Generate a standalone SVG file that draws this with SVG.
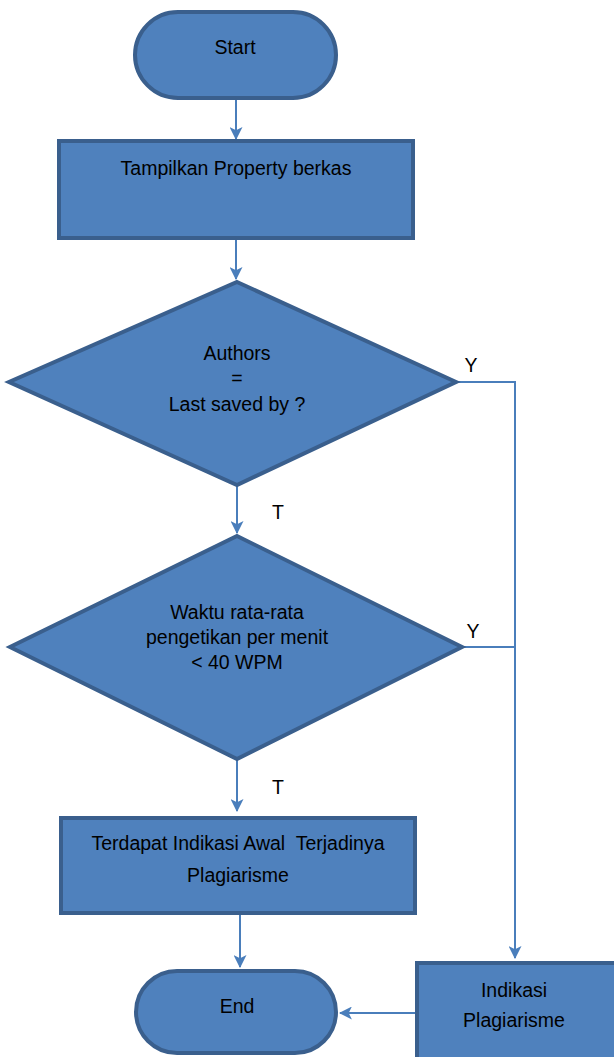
<svg xmlns="http://www.w3.org/2000/svg" width="614" height="1057" viewBox="0 0 614 1057">
<style>
.n{fill:#4f81bd;stroke:#3a5f8d;stroke-width:4}
.t{font-family:"Liberation Sans",Arial,sans-serif;font-size:19.5px;fill:#000;text-anchor:middle}
.c{fill:none;stroke:#4a7ebb;stroke-width:2}
</style>
<defs>
<marker id="ah" viewBox="0 0 12 12" refX="11" refY="6" markerWidth="13" markerHeight="13" markerUnits="userSpaceOnUse" orient="auto">
<path d="M0,0 L12,6 L0,12 L3,6 z" fill="#4a7ebb"/>
</marker>
</defs>
<rect width="614" height="1057" fill="#fff"/>
<g id="connectors">
<path class="c" d="M236,98 V139" marker-end="url(#ah)"/>
<path class="c" d="M236,239 V279" marker-end="url(#ah)"/>
<path class="c" d="M237,486 V533" marker-end="url(#ah)"/>
<path class="c" d="M237,760 V811" marker-end="url(#ah)"/>
<path class="c" d="M240,915 V967" marker-end="url(#ah)"/>
<path class="c" d="M457,382 H515 V958" marker-end="url(#ah)"/>
<path class="c" d="M463,647 H515"/>
<path class="c" d="M416,1013 H340" marker-end="url(#ah)"/>
<text class="t" x="471" y="372">Y</text>
<text class="t" x="473" y="638">Y</text>
<text class="t" x="278" y="519">T</text>
<text class="t" x="278" y="794">T</text>
</g>
<g id="start">
<rect class="n" x="135" y="12" width="201" height="86" rx="43" ry="43"/>
<text class="t" x="235" y="54">Start</text>
</g>
<g id="tampilkan">
<rect class="n" x="59" y="141" width="354" height="97"/>
<text class="t" x="236" y="175">Tampilkan Property berkas</text>
</g>
<g id="authors">
<polygon class="n" points="237,282 456,382 237,485 9,382"/>
<text class="t" x="237" y="360">Authors</text>
<text class="t" x="237" y="385">=</text>
<text class="t" x="237" y="411">Last saved by ?</text>
</g>
<g id="waktu">
<polygon class="n" points="237,536 462,647 237,759 10,647"/>
<text class="t" x="237" y="619">Waktu rata-rata</text>
<text class="t" x="237" y="644">pengetikan per menit</text>
<text class="t" x="237" y="669">&lt; 40 WPM</text>
</g>
<g id="terdapat">
<rect class="n" x="61" y="818" width="354" height="95"/>
<text class="t" x="238" y="850" xml:space="preserve">Terdapat Indikasi Awal  Terjadinya</text>
<text class="t" x="238" y="882">Plagiarisme</text>
</g>
<g id="end">
<rect class="n" x="136" y="971" width="200" height="82" rx="41" ry="41"/>
<text class="t" x="237" y="1013">End</text>
</g>
<g id="indikasi">
<rect class="n" x="417" y="963" width="200" height="96"/>
<text class="t" x="514" y="997">Indikasi</text>
<text class="t" x="514" y="1027">Plagiarisme</text>
</g>
</svg>
